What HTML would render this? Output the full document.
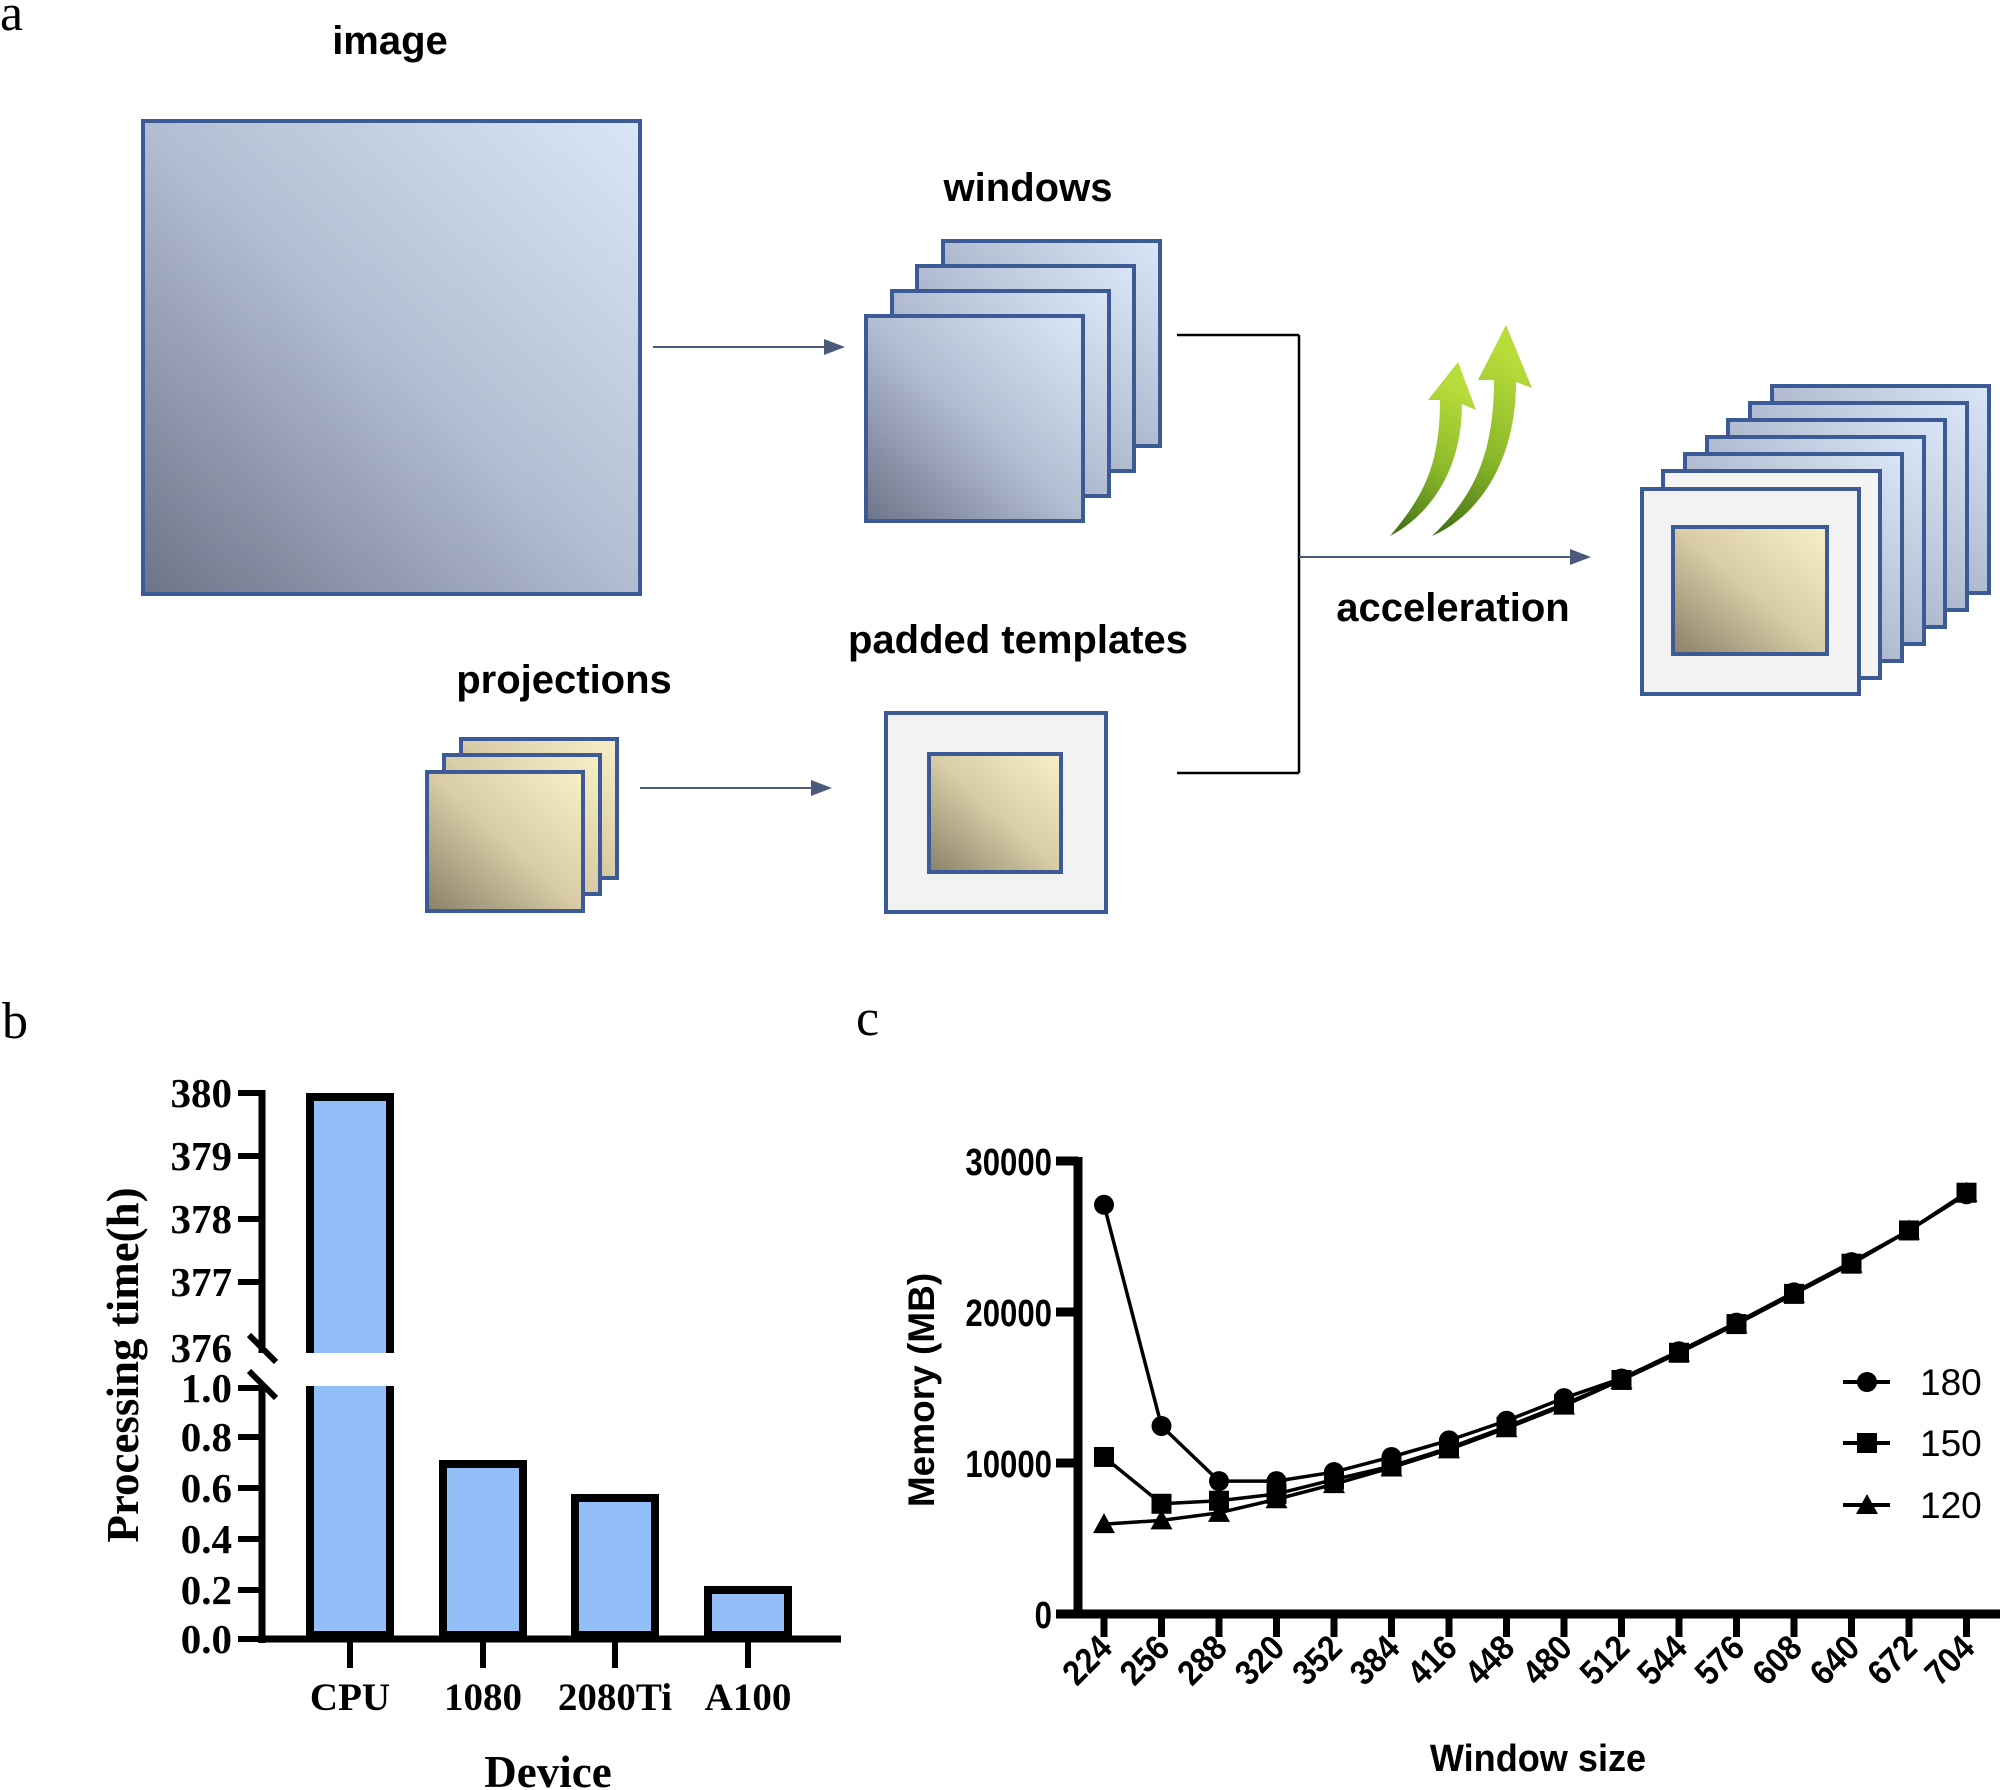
<!DOCTYPE html>
<html><head><meta charset="utf-8"><style>
html,body{margin:0;padding:0;background:#fff;}
svg{display:block;}
.sans{font-family:"Liberation Sans",Arial,sans-serif;font-weight:bold;}
.serif{font-family:"Liberation Serif","Times New Roman",serif;font-weight:bold;}
</style></head><body>
<svg width="2000" height="1790" viewBox="0 0 2000 1790" xmlns="http://www.w3.org/2000/svg">
<defs>
<linearGradient id="blue" x1="0" y1="1" x2="1" y2="0">
<stop offset="0" stop-color="#6c7488"/><stop offset="0.5" stop-color="#b3bdd1"/><stop offset="1" stop-color="#dae6f8"/></linearGradient>
<linearGradient id="beige" x1="0" y1="1" x2="1" y2="0">
<stop offset="0" stop-color="#8a8068"/><stop offset="0.5" stop-color="#d8cca6"/><stop offset="1" stop-color="#f8efc8"/></linearGradient>
<linearGradient id="green" x1="0" y1="1" x2="0.3" y2="0">
<stop offset="0" stop-color="#3d6a10"/><stop offset="0.5" stop-color="#8ab82a"/><stop offset="1" stop-color="#b8dc3a"/></linearGradient>
</defs>

<!-- Panel a -->
<text x="0" y="30" font-family="Liberation Serif,serif" font-size="52">a</text>
<text x="390" y="54" class="sans" font-size="40" text-anchor="middle">image</text>
<rect x="143" y="121" width="497" height="473" fill="url(#blue)" stroke="#3b5a96" stroke-width="4"/>
<line x1="653" y1="347" x2="842" y2="347" stroke="#4a5a78" stroke-width="2"/>
<path d="M824,339 L845,347 L824,355 Z" fill="#4a5a78"/>

<text x="1028" y="201" class="sans" font-size="40" text-anchor="middle">windows</text>
<g stroke="#3b5a96" stroke-width="4" fill="url(#blue)">
<rect x="943" y="241" width="217" height="205"/>
<rect x="917" y="266" width="217" height="205"/>
<rect x="892" y="291" width="217" height="205"/>
<rect x="866" y="316" width="217" height="205"/>
</g>

<g stroke="#000" stroke-width="2.5" fill="none">
<line x1="1177" y1="335" x2="1299" y2="335"/>
<line x1="1177" y1="773" x2="1299" y2="773"/>
<line x1="1299" y1="335" x2="1299" y2="773"/>
</g>
<line x1="1299" y1="557" x2="1587" y2="557" stroke="#4a5a78" stroke-width="2"/>
<path d="M1570,549 L1591,557 L1570,565 Z" fill="#4a5a78"/>
<text x="1453" y="621" class="sans" font-size="40" text-anchor="middle">acceleration</text>

<!-- green arrows -->
<path d="M1390,536 C1420,500 1440,470 1440,400 L1428,400 L1458,362 L1476,410 L1462,404 C1462,470 1430,515 1390,536 Z" fill="url(#green)"/>
<path d="M1432,536 C1470,500 1494,460 1494,380 L1478,380 L1506,325 L1532,388 L1516,382 C1516,460 1480,515 1432,536 Z" fill="url(#green)"/>

<!-- right stack -->
<g stroke="#3b5a96" stroke-width="4" fill="url(#blue)">
<rect x="1772" y="386" width="217" height="207"/>
<rect x="1750" y="403" width="217" height="207"/>
<rect x="1728" y="420" width="217" height="207"/>
<rect x="1707" y="437" width="217" height="207"/>
<rect x="1685" y="454" width="217" height="207"/>
<rect x="1663" y="471" width="217" height="207" fill="#f4f4f4"/>
<rect x="1642" y="489" width="217" height="205" fill="#f2f2f2"/>
<rect x="1673" y="527" width="154" height="127" fill="url(#beige)"/>
</g>

<text x="1018" y="653" class="sans" font-size="40" text-anchor="middle">padded templates</text>
<rect x="886" y="713" width="220" height="199" fill="#f2f2f2" stroke="#3b5a96" stroke-width="4"/>
<rect x="929" y="754" width="132" height="118" fill="url(#beige)" stroke="#3b5a96" stroke-width="4"/>
<line x1="640" y1="788" x2="828" y2="788" stroke="#4a5a78" stroke-width="2"/>
<path d="M811,780 L832,788 L811,796 Z" fill="#4a5a78"/>

<text x="564" y="693" class="sans" font-size="40" text-anchor="middle">projections</text>
<g stroke="#3b5a96" stroke-width="4" fill="url(#beige)">
<rect x="461" y="739" width="156" height="139"/>
<rect x="444" y="755" width="156" height="139"/>
<rect x="427" y="772" width="156" height="139"/>
</g>

<!-- Panel b -->
<text x="2" y="1038" font-family="Liberation Serif,serif" font-size="52">b</text>
<g stroke="#000" stroke-width="7" fill="none">
<line x1="262" y1="1090" x2="262" y2="1353"/>
<line x1="262" y1="1386" x2="262" y2="1643"/>
<line x1="258" y1="1639" x2="841" y2="1639"/>
</g>
<g stroke="#000" stroke-width="6">
<line x1="238" y1="1093" x2="262" y2="1093"/>
<line x1="238" y1="1156" x2="262" y2="1156"/>
<line x1="238" y1="1219" x2="262" y2="1219"/>
<line x1="238" y1="1282" x2="262" y2="1282"/>
<line x1="238" y1="1388" x2="262" y2="1388"/>
<line x1="238" y1="1437" x2="262" y2="1437"/>
<line x1="238" y1="1488" x2="262" y2="1488"/>
<line x1="238" y1="1539" x2="262" y2="1539"/>
<line x1="238" y1="1590" x2="262" y2="1590"/>
<line x1="238" y1="1639" x2="262" y2="1639"/>
<line x1="249" y1="1335" x2="276" y2="1362"/>
<line x1="249" y1="1371" x2="276" y2="1398"/>
<line x1="350" y1="1639" x2="350" y2="1668"/>
<line x1="483" y1="1639" x2="483" y2="1668"/>
<line x1="615" y1="1639" x2="615" y2="1668"/>
<line x1="748" y1="1639" x2="748" y2="1668"/>
</g>
<g class="serif" font-size="41" text-anchor="end">
<text x="232" y="1107">380</text>
<text x="232" y="1170">379</text>
<text x="232" y="1233">378</text>
<text x="232" y="1296">377</text>
<text x="232" y="1362">376</text>
<text x="232" y="1402">1.0</text>
<text x="232" y="1451">0.8</text>
<text x="232" y="1502">0.6</text>
<text x="232" y="1553">0.4</text>
<text x="232" y="1604">0.2</text>
<text x="232" y="1653">0.0</text>
</g>
<g fill="#92bff8" stroke="#000" stroke-width="8">
<path d="M310,1353 L310,1097 L390,1097 L390,1353"/>
<path d="M310,1386 L310,1635 L390,1635 L390,1386"/>
<rect x="443" y="1464" width="80" height="171"/>
<rect x="575" y="1498" width="80" height="137"/>
<rect x="708" y="1590" width="80" height="45"/>
</g>
<g class="serif" font-size="39" text-anchor="middle">
<text x="350" y="1710">CPU</text>
<text x="483" y="1710">1080</text>
<text x="615" y="1710">2080Ti</text>
<text x="748" y="1710">A100</text>
</g>
<text x="548" y="1787" class="serif" font-size="45" text-anchor="middle">Device</text>
<text transform="translate(138,1365) rotate(-90)" class="serif" font-size="45" text-anchor="middle">Processing time(h)</text>

<!-- Panel c -->
<text x="856" y="1035" font-family="Liberation Serif,serif" font-size="52">c</text>
<g stroke="#000" stroke-width="9">
<line x1="1078" y1="1157" x2="1078" y2="1618"/>
<line x1="1074" y1="1614" x2="2000" y2="1614"/>
<line x1="1056" y1="1161" x2="1078" y2="1161"/>
<line x1="1056" y1="1312" x2="1078" y2="1312"/>
<line x1="1056" y1="1463" x2="1078" y2="1463"/>
<line x1="1056" y1="1614" x2="1078" y2="1614"/>
</g>
<g class="sans" font-size="38" text-anchor="end">
<text transform="translate(1052,1175) scale(0.82,1)">30000</text>
<text transform="translate(1052,1326) scale(0.82,1)">20000</text>
<text transform="translate(1052,1477) scale(0.82,1)">10000</text>
<text transform="translate(1052,1628) scale(0.82,1)">0</text>
</g>
<text transform="translate(934,1390) rotate(-90)" class="sans" font-size="37" text-anchor="middle">Memory (MB)</text>
<text x="1538" y="1771" class="sans" font-size="38" text-anchor="middle" transform="translate(1538,0) scale(0.95,1) translate(-1538,0)">Window size</text>
<script>
(function(){
var ns="http://www.w3.org/2000/svg";
var svg=document.querySelector('svg');
var xs=[224,256,288,320,352,384,416,448,480,512,544,576,608,640,672,704];
function X(i){return 1104+i*57.5;}
function Y(v){return 1614-v*0.0151;}
var g=document.createElementNS(ns,'g');svg.appendChild(g);
xs.forEach(function(v,i){
 var l=document.createElementNS(ns,'line');
 l.setAttribute('x1',X(i));l.setAttribute('x2',X(i));l.setAttribute('y1',1614);l.setAttribute('y2',1637);
 l.setAttribute('stroke','#000');l.setAttribute('stroke-width','7');g.appendChild(l);
 var t=document.createElementNS(ns,'text');
 t.setAttribute('transform','translate('+(X(i)+10)+',1650) rotate(-45) scale(0.9,1)');
 t.setAttribute('text-anchor','end');t.setAttribute('class','sans');t.setAttribute('font-size','35');
 t.textContent=v;g.appendChild(t);
});
var d180=[27100,12450,8800,8800,9400,10400,11500,12800,14300,15600,17400,19300,21300,23300,25400,27800];
var d150=[10400,7300,7500,7950,8900,9800,11000,12400,13900,15500,17300,19200,21200,23200,25400,27900];
var d120=[5950,6200,6700,7600,8600,9700,10900,12300,13800,15500,17300,19200,21200,23200,25400,27900];
function line(d){
 var p=document.createElementNS(ns,'polyline');
 p.setAttribute('points',d.map(function(v,i){return X(i)+','+Y(v);}).join(' '));
 p.setAttribute('fill','none');p.setAttribute('stroke','#000');p.setAttribute('stroke-width','3.5');g.appendChild(p);
}
function circ(x,y){var c=document.createElementNS(ns,'circle');c.setAttribute('cx',x);c.setAttribute('cy',y);c.setAttribute('r',10);g.appendChild(c);}
function sq(x,y){var c=document.createElementNS(ns,'rect');c.setAttribute('x',x-10);c.setAttribute('y',y-10);c.setAttribute('width',20);c.setAttribute('height',20);g.appendChild(c);}
function tri(x,y){var c=document.createElementNS(ns,'path');c.setAttribute('d','M'+x+','+(y-11)+' L'+(x+11)+','+(y+9)+' L'+(x-11)+','+(y+9)+' Z');g.appendChild(c);}
line(d120);line(d150);line(d180);
d120.forEach(function(v,i){tri(X(i),Y(v));});
d150.forEach(function(v,i){sq(X(i),Y(v));});
d180.forEach(function(v,i){circ(X(i),Y(v));});
[[1382,circ,'180'],[1443,sq,'150'],[1505,tri,'120']].forEach(function(a){
 var l=document.createElementNS(ns,'line');l.setAttribute('x1',1843);l.setAttribute('x2',1890);l.setAttribute('y1',a[0]);l.setAttribute('y2',a[0]);
 l.setAttribute('stroke','#000');l.setAttribute('stroke-width','4');g.appendChild(l);
 a[1](1867,a[0]);
 var t=document.createElementNS(ns,'text');t.setAttribute('x',1920);t.setAttribute('y',a[0]+13);
 t.setAttribute('font-family','Liberation Sans,Arial,sans-serif');t.setAttribute('font-size','37');t.textContent=a[2];g.appendChild(t);
});
})();
</script>
</svg>
</body></html>
